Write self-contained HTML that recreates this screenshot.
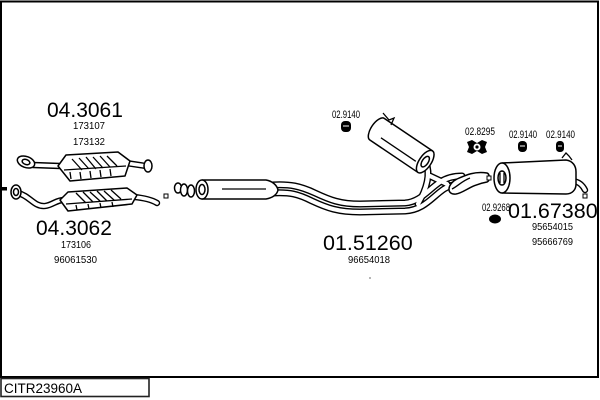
<!DOCTYPE html>
<html><head><meta charset="utf-8"><style>
html,body{margin:0;padding:0;background:#fff;}
svg{display:block;}
text{font-family:"Liberation Sans",Arial,sans-serif;fill:#000;}
.o{fill:#fff;stroke:#000;stroke-width:1.5;stroke-linejoin:round;}
.l{fill:none;stroke:#000;stroke-width:1.3;}
.pb{fill:none;stroke:#000;stroke-width:7;stroke-linecap:round;stroke-linejoin:round;}
.pw{fill:none;stroke:#fff;stroke-width:4.2;stroke-linecap:round;stroke-linejoin:round;}
.pb2{fill:none;stroke:#000;stroke-width:6.4;stroke-linecap:round;}
.pw2{fill:none;stroke:#fff;stroke-width:3.6;stroke-linecap:round;}
</style></head><body>
<svg width="600" height="400" viewBox="0 0 600 400" xmlns="http://www.w3.org/2000/svg">
<rect x="1" y="1.5" width="597" height="375.5" fill="#fff" stroke="#000" stroke-width="2"/>
<rect x="1" y="378.5" width="148" height="18" fill="#fff" stroke="#222" stroke-width="1.6"/>
<text x="4" y="393" font-size="13.5">CITR23960A</text>

<!-- left mark -->
<rect x="0" y="187" width="7" height="3.5" fill="#000"/>

<!-- upper catalyst -->
<path class="pb2" d="M33 165 L60 166"/><path class="pw2" d="M33 165 L60 166"/>
<path class="pb2" d="M126 163 L146 166"/><path class="pw2" d="M126 163 L146 166"/>
<ellipse class="o" cx="26" cy="162" rx="9" ry="5.5" transform="rotate(20 26 162)"/>
<ellipse class="o" cx="26" cy="162" rx="4" ry="2.5" transform="rotate(20 26 162)"/>
<ellipse class="o" cx="148" cy="166" rx="4" ry="6"/>
<path class="o" d="M58 166 L66 155 L118 152 L130 161 L125 176 L70 181 Z"/>
<path class="l" d="M64 170 L126 166 M72 159 L82 170 M79 158 L89 169 M86 157 L96 169 M93 157 L103 168 M100 156 L110 167 M107 156 L117 166 M70 172 L71 179 M80 172 L81 179 M90 171 L91 178 M100 170 L101 177 M110 169 L111 176"/>

<!-- lower catalyst -->
<path class="pb2" d="M18 193 C30 196 34 207 45 206 C53 205 56 200 64 200"/>
<path class="pw2" d="M18 193 C30 196 34 207 45 206 C53 205 56 200 64 200"/>
<path class="pb2" d="M134 197 C145 198 152 200 157 203"/>
<path class="pw2" d="M134 197 C145 198 152 200 157 203"/>
<ellipse class="o" cx="16" cy="192" rx="5" ry="7"/>
<ellipse class="o" cx="16" cy="192" rx="2.5" ry="3.5"/>
<path class="o" d="M60 200 L68 192 L127 188 L137 195 L132 204 L68 211 Z"/>
<path class="l" d="M66 204 L132 199 M76 193 L86 203 M83 192 L93 202 M90 192 L100 201 M97 191 L107 201 M104 191 L114 200 M111 190 L121 199 M76 205 L77 210 M88 204 L89 209 M100 203 L101 208 M112 202 L113 207"/>
<rect x="164" y="194" width="4" height="4" fill="#fff" stroke="#000" stroke-width="1"/>

<!-- middle pipe: flanges and resonator -->
<ellipse class="o" cx="178" cy="188" rx="3.5" ry="5"/>
<ellipse class="o" cx="184" cy="190" rx="3.5" ry="6"/>
<ellipse class="o" cx="191" cy="191" rx="3.5" ry="6"/>
<path class="pb" d="M272 185 C290 184 300 186 315 193 C330 200 340 204 360 204 L405 203 C420 202 428 190 440 182 C448 177 455 176 462 176"/>
<path class="pb" d="M272 193 C290 192 298 194 312 201 C327 208 338 212 360 212 L405 211 C424 210 432 197 444 189 C450 185 456 184 462 184"/>
<path class="pb" d="M426 163 C431 175 426 190 418 204"/>
<path class="pb" d="M430 176 L447 184"/>
<path class="pw" d="M272 185 C290 184 300 186 315 193 C330 200 340 204 360 204 L405 203 C420 202 428 190 440 182 C448 177 455 176 462 176"/>
<path class="pw" d="M272 193 C290 192 298 194 312 201 C327 208 338 212 360 212 L405 211 C424 210 432 197 444 189 C450 185 456 184 462 184"/>
<path class="pw" d="M426 163 C431 175 426 190 418 204"/>
<path class="pw" d="M430 176 L447 184"/>
<path class="o" d="M202 180 L266 180 C272 181 277 185 278 190 C277 195 272 198 266 199 L202 199 Z"/>
<ellipse class="o" cx="202" cy="189.5" rx="6" ry="9.5"/>
<ellipse class="o" cx="202" cy="189.5" rx="3" ry="5"/>
<path class="l" d="M222 189 L266 189"/>

<!-- middle muffler -->
<g transform="translate(402,146) rotate(34)">
<path class="o" d="M-30 -13 L28 -13 L28 13 L-30 13 A6 13 0 0 1 -30 -13 Z"/>
<ellipse class="o" cx="28" cy="0" rx="6" ry="13"/>
<ellipse class="o" cx="28" cy="0" rx="3" ry="6"/>
<path class="l" d="M-22 5 L20 5"/>
</g>
<path class="l" d="M383 113 L389 120 L394 118 L391 125" stroke-width="1.5"/>

<!-- loop inlet -->
<path class="o" d="M487 173 C475 171 466 175 457 179 C447 184 446 195 456 194 C464 193 470 185 487 182 C490 181 490 174 487 173 Z"/>
<path class="l" d="M452 189 C458 186 462 181 470 178"/>
<rect x="487" y="176" width="4" height="4" fill="#fff" stroke="#000" stroke-width="1"/>

<!-- rear muffler -->
<path class="pb2" d="M573 181 C580 182 583 186 585 190"/>
<path class="pw2" d="M573 181 C580 182 583 186 585 190"/>
<path class="o" d="M502 163 L566 160 C573 161 576 166 576 172 L576 184 C576 190 572 194 566 194 L502 193 Z"/>
<ellipse class="o" cx="502" cy="178" rx="8" ry="15"/>
<ellipse class="o" cx="502" cy="178" rx="4" ry="7"/>
<path class="l" d="M500 173 L500 183 M504 173 L504 183"/>
<path class="l" d="M562 158 L566 153 L569 156 L572 160" stroke-width="1.5"/>
<rect x="583" y="194" width="4" height="4" fill="#fff" stroke="#000" stroke-width="1"/>

<!-- hangers -->
<rect x="341" y="121" width="10" height="11" rx="4" fill="#000"/>
<path d="M343 126 L349 126" stroke="#fff" stroke-width="1"/>
<path d="M467 142 L472 140 L477 143 L482 140 L487 142 L485 147 L487 152 L482 154 L477 151 L472 154 L467 152 L469 147 Z" fill="#000"/>
<circle cx="477" cy="147" r="3.5" fill="#fff"/>
<circle cx="477" cy="147" r="1.6" fill="#000"/>
<rect x="518" y="141" width="9" height="11" rx="4" fill="#000"/>
<path d="M520 146 L525 146" stroke="#fff" stroke-width="1"/>
<rect x="556" y="141" width="8" height="11" rx="3.5" fill="#000"/>
<path d="M558 146 L562 146" stroke="#fff" stroke-width="1"/>
<ellipse cx="495" cy="219" rx="6" ry="4.5" fill="#000"/>
<circle cx="370" cy="278" r="0.6" fill="#000"/>

<!-- labels -->
<text x="47" y="117" font-size="21">04.3061</text>
<text x="73" y="129" font-size="10.5" textLength="32" lengthAdjust="spacingAndGlyphs">173107</text>
<text x="73" y="145" font-size="10.5" textLength="32" lengthAdjust="spacingAndGlyphs">173132</text>
<text x="36" y="235" font-size="21">04.3062</text>
<text x="61" y="248" font-size="10.5" textLength="30" lengthAdjust="spacingAndGlyphs">173106</text>
<text x="54" y="263" font-size="10.5" textLength="43" lengthAdjust="spacingAndGlyphs">96061530</text>
<text x="323" y="250" font-size="21.5">01.51260</text>
<text x="348" y="263" font-size="10.5" textLength="42" lengthAdjust="spacingAndGlyphs">96654018</text>
<text x="332" y="118" font-size="11" textLength="28" lengthAdjust="spacingAndGlyphs">02.9140</text>
<text x="465" y="135" font-size="11" textLength="30" lengthAdjust="spacingAndGlyphs">02.8295</text>
<text x="509" y="138" font-size="11" textLength="28" lengthAdjust="spacingAndGlyphs">02.9140</text>
<text x="546" y="138" font-size="11" textLength="29" lengthAdjust="spacingAndGlyphs">02.9140</text>
<text x="482" y="211" font-size="11" textLength="28" lengthAdjust="spacingAndGlyphs">02.9268</text>
<text x="508" y="218" font-size="21.5">01.67380</text>
<text x="532" y="230" font-size="10.5" textLength="41" lengthAdjust="spacingAndGlyphs">95654015</text>
<text x="532" y="245" font-size="10.5" textLength="41" lengthAdjust="spacingAndGlyphs">95666769</text>
</svg>
</body></html>
